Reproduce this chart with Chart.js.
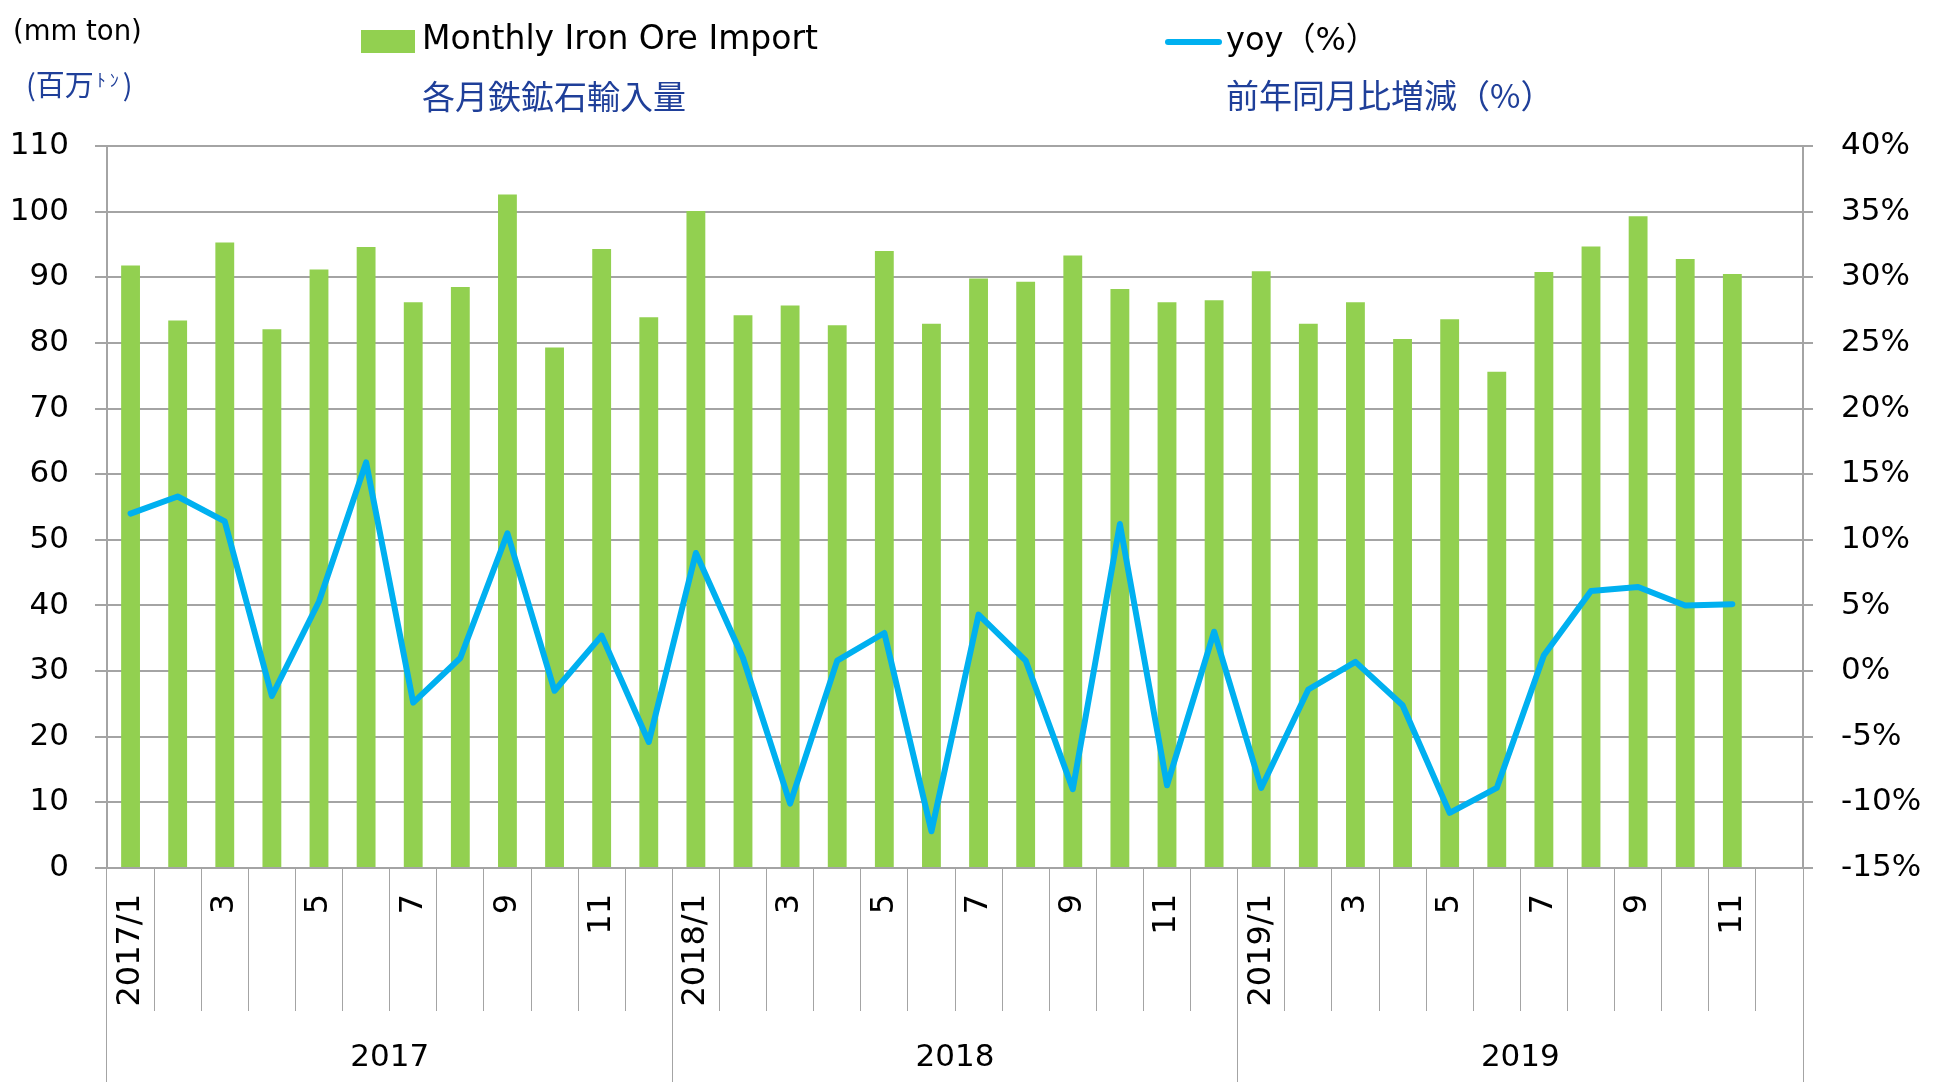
<!DOCTYPE html>
<html>
<head>
<meta charset="utf-8">
<script src="https://cdn.jsdelivr.net/npm/chart.js@4.4.1/dist/chart.umd.min.js"></script>
<style>
html,body{margin:0;padding:0;background:#fff;}
#wrap{position:relative;width:1933px;height:1082px;overflow:hidden;background:#fff;}
#c{position:absolute;left:0;top:0;width:1933px;height:1082px;}
.t{position:absolute;white-space:nowrap;line-height:1;}
.lat{font-family:'DejaVu Sans','Noto Sans CJK JP',sans-serif;color:#000;}
.jp{font-family:'Noto Sans CJK JP','DejaVu Sans',sans-serif;color:#1f3f99;}
</style>
</head>
<body>
<div id="wrap">
  <canvas id="c" width="1933" height="1082"></canvas>
  <div class="t lat" style="left:13px;top:17px;font-size:27.5px;">(mm ton)</div>
  <div class="t jp" style="left:26px;top:69px;font-size:29px;">(百万<span style="font-size:18px;vertical-align:top;position:relative;top:1px;letter-spacing:4px;margin-left:3px;">ﾄﾝ</span>)</div>

  <div style="position:absolute;left:361px;top:30px;width:54px;height:23px;background:#92D050;"></div>
  <div class="t lat" style="left:422px;top:21px;font-size:33px;">Monthly Iron Ore Import</div>
  <div class="t jp" style="left:422px;top:79px;font-size:33px;">各月鉄鉱石輸入量</div>

  <div style="position:absolute;left:1165px;top:39px;width:57px;height:6px;border-radius:3px;background:#00B0F0;"></div>
  <div class="t lat" style="left:1226px;top:23px;font-size:32px;">yoy（%）</div>
  <div class="t jp" style="left:1226px;top:78px;font-size:33px;">前年同月比増減（%）</div>
</div>
<script>
// ---- data ----
const monthLabels = [
  '2017/1','2','3','4','5','6','7','8','9','10','11','12',
  '2018/1','2','3','4','5','6','7','8','9','10','11','12',
  '2019/1','2','3','4','5','6','7','8','9','10','11','12'
];
const yearLabels = ['2017','2018','2019'];
// Monthly iron ore import (million tons)
const imports = [
  91.8, 83.4, 95.3, 82.1, 91.2, 94.6, 86.2, 88.5, 102.6, 79.3, 94.3, 83.9,
  100.1, 84.2, 85.7, 82.7, 94.0, 82.9, 89.8, 89.3, 93.3, 88.2, 86.2, 86.5,
  90.9, 82.9, 86.2, 80.6, 83.6, 75.6, 90.8, 94.7, 99.3, 92.8, 90.5, null
];
// Year-on-year change (%)
const yoy = [
  12.0, 13.3, 11.4, -1.9, 5.3, 15.9, -2.4, 1.0, 10.5, -1.5, 2.7, -5.4,
  9.0, 1.0, -10.1, 0.8, 2.9, -12.2, 4.3, 0.8, -9.0, 11.2, -8.7, 3.0,
  -8.9, -1.4, 0.7, -2.6, -10.8, -8.9, 1.2, 6.1, 6.4, 5.0, 5.1, null
];
const leftAxis = {min: 0, max: 110, step: 10};
const rightAxis = {min: -15, max: 40, step: 5};

const FONT = "'DejaVu Sans','Noto Sans CJK JP',sans-serif";
const GRID = '#a4a4a4';

Chart.defaults.font.family = FONT;
Chart.defaults.color = '#000';

new Chart(document.getElementById('c'), {
  data: {
    labels: monthLabels,
    datasets: [
      {
        type: 'line',
        label: 'yoy（%）',
        data: yoy,
        yAxisID: 'y1',
        xAxisID: 'x',
        borderColor: '#00B0F0',
        borderWidth: 6,
        pointRadius: 0,
        tension: 0,
        borderJoinStyle: 'round',
        borderCapStyle: 'round',
        order: 0
      },
      {
        type: 'bar',
        label: 'Monthly Iron Ore Import',
        data: imports,
        yAxisID: 'y',
        xAxisID: 'x',
        backgroundColor: '#92D050',
        barPercentage: 0.4,
        categoryPercentage: 1.0,
        order: 1
      }
    ]
  },
  options: {
    responsive: false,
    animation: false,
    layout: {padding: {top: 146, left: 0, right: 0, bottom: 0}},
    plugins: {legend: {display: false}, tooltip: {enabled: false}},
    scales: {
      x: {
        type: 'category',
        position: 'bottom',
        weight: 0,
        offset: true,
        grid: {offset: true, drawOnChartArea: false, drawTicks: true, tickLength: 143, color: GRID, lineWidth: 1},
        border: {display: true, color: GRID, width: 2},
        ticks: {
          autoSkip: false, maxRotation: 90, minRotation: 90, padding: -117,
          font: {size: 32}, color: '#000',
          callback: function(v, i) { return i % 2 === 0 ? monthLabels[i] : ''; }
        },
        afterFit: function(s) { s.height = 143; }
      },
      year: {
        type: 'category',
        labels: yearLabels,
        position: 'bottom',
        weight: 1,
        offset: true,
        grid: {offset: true, drawOnChartArea: false, drawTicks: true, tickLength: 71, color: GRID, lineWidth: 1},
        border: {display: false},
        ticks: {autoSkip: false, maxRotation: 0, minRotation: 0, padding: -42.6, font: {size: 31}, color: '#000'},
        afterFit: function(s) { s.height = 71; }
      },
      y: {
        position: 'left',
        min: leftAxis.min, max: leftAxis.max,
        ticks: {stepSize: leftAxis.step, padding: 26, font: {size: 31}, color: '#000'},
        grid: {color: GRID, lineWidth: 2, tickLength: 12, drawTicks: true},
        border: {display: true, color: GRID, width: 2},
        afterFit: function(s) { s.width = 107; }
      },
      y1: {
        position: 'right',
        min: rightAxis.min, max: rightAxis.max,
        ticks: {stepSize: rightAxis.step, padding: 28, font: {size: 31}, color: '#000',
          callback: function(v) { return v + '%'; }},
        grid: {drawOnChartArea: false, color: GRID, lineWidth: 2, tickLength: 10, drawTicks: true},
        border: {display: true, color: GRID, width: 2},
        afterFit: function(s) { s.width = 130; }
      }
    }
  }
});
</script>
</body>
</html>
